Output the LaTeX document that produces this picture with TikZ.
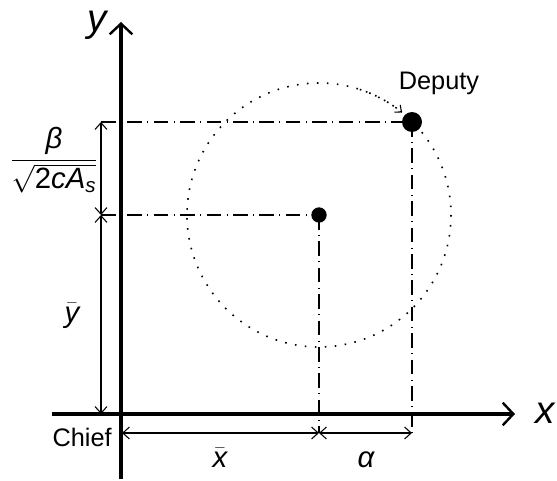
\documentclass[tikz,border=0pt]{standalone}
\usepackage{fontspec}
\usepackage{amsmath}
\setmainfont{Liberation Sans}
\usetikzlibrary{arrows.meta}
\newcommand{\si}[1]{\text{\itshape #1}}
\begin{document}
\begin{tikzpicture}[x=0.75pt,y=-0.75pt,
  axisline/.style={line width=2.4pt,-{Straight Barb[length=8pt,width=17pt,line width=1.8pt]}},
  dimline/.style={line width=0.8pt,{Straight Barb[length=5pt,width=9pt]}-{Straight Barb[length=5pt,width=9pt]}},
  dashdotline/.style={line width=1.1pt,dash pattern=on 11pt off 4pt on 0.8pt off 4pt},
  orbit/.style={line width=1.2pt,dash pattern=on 1.2pt off 6.3pt},
  lbl/.style={font=\fontsize{19}{22}\selectfont,inner sep=0pt},
  mlbl/.style={font=\fontsize{22}{25}\selectfont,inner sep=0pt},
  biglbl/.style={font=\fontsize{29}{29}\selectfont\itshape,inner sep=0pt},
  dot/.style={circle,fill=black,inner sep=0pt}]
\useasboundingbox (0,0) rectangle (557,481);
% key points
\coordinate (C) at (319,215);
\coordinate (D) at (412,122);
\coordinate (xs) at (52,414);
\coordinate (xe) at (515,414);
\coordinate (ys) at (121,479);
\coordinate (ye) at (121,22);
\coordinate (vO) at (101,414);
\coordinate (vC) at (101,215);
\coordinate (vD) at (101,122);
\coordinate (hO) at (122,433);
\coordinate (hC) at (319,433);
\coordinate (hD) at (412,433);
% orbit
\draw[orbit] (C) circle[radius=132];
\draw[orbit,-{Straight Barb[length=4pt,width=7pt,line width=0.8pt]}]
  (C) ++(-72:132) arc[start angle=-72,end angle=-51,radius=132];
% dash-dot guides
\draw[dashdotline] (vD) -- (D);
\draw[dashdotline] (vC) -- (C);
\draw[dashdotline] (C) -- (hC);
\draw[dashdotline] (D) -- (hD);
% axes
\draw[axisline] (xs) -- (xe);
\draw[axisline] (ys) -- (ye);
% dimensions
\draw[dimline] (vO) -- (vC);
\draw[dimline] (vC) -- (vD);
\draw[dimline] (hO) -- (hC);
\draw[dimline] (hC) -- (hD);
% dots
\node[dot,minimum size=11.5pt] (cdot) at (C) {};
\node[dot,minimum size=15pt] (ddot) at (D) {};
% labels
\node[biglbl] (ylab) at (97,25) {y};
\node[biglbl] (xlab) at (545,413) {x};
\node[lbl,anchor=east] (chief) at (112,437) {Chief};
\node[lbl] (deputy) at (439,83) {Deputy};
\node[mlbl] (xbar) at (220,458) {$\bar{\si{x}}$};
\node[mlbl] (alpha) at (366,460) {$\si{α}$};
\node[mlbl] (ybar) at (72,316) {$\bar{\si{y}}$};
\node[mlbl] (frac) at (54,160) {$\dfrac{\si{β}}{\sqrt{\text{2}\si{c}\si{A}_{\si{s}}}}$};
\end{tikzpicture}
\end{document}
